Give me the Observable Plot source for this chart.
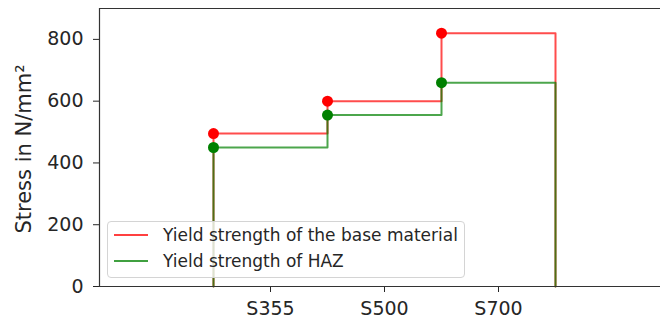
<!DOCTYPE html>
<html><head><meta charset="utf-8">
<script src="https://cdn.jsdelivr.net/npm/d3@7"></script>
<script src="https://cdn.jsdelivr.net/npm/@observablehq/plot@0.6"></script>
<style>
body{margin:0;background:#fff;font-family:"DejaVu Sans",sans-serif;overflow:hidden}
#wrap{position:relative;width:660px;height:320px}
.legend{position:absolute;left:107px;top:221px;width:356px;height:55px;border:1px solid #d4d4d4;border-radius:4px;background:rgba(255,255,255,0.8);font-size:17px;color:#262626}
.item{position:absolute;left:0;height:22px;line-height:22px;white-space:nowrap}
.item .sw{position:absolute;left:6px;top:10px;width:34px;height:2px}
.item .tx{position:absolute;left:55px;top:0}
</style></head>
<body><div id="wrap"></div>
<script>
const grades = ["S355", "S500", "S700"];
const baseYield = [495, 600, 820];
const hazYield = [450, 555, 660];
const yTicks = [0, 200, 400, 600, 800];
const seriesNames = ["Yield strength of the base material", "Yield strength of HAZ"];
const seriesColors = ["red", "green"];

function stepPoints(vals) {
  const pts = [{x: 0, y: 0}];
  vals.forEach((v, i) => pts.push({x: i, y: v}));
  pts.push({x: vals.length, y: vals[vals.length - 1]});
  pts.push({x: vals.length, y: 0});
  return pts;
}
const dots = vals => vals.map((v, i) => ({x: i, y: v}));
const tickPos = grades.map((g, i) => i + 0.5);
const xMin = -1, xMax = -1 + 561 / 114;

const chart = Plot.plot({
  width: 660, height: 320,
  marginLeft: 99, marginRight: 0, marginTop: 8, marginBottom: 34,
  style: {fontFamily: "DejaVu Sans, sans-serif", fontSize: "19px", color: "#262626", background: "#fff"},
  x: {domain: [xMin, xMax]},
  y: {domain: [0, 900]},
  marks: [
    Plot.axisX({ticks: tickPos, tickFormat: (d) => grades[Math.round(d - 0.5)], tickSize: 6, tickPadding: 9, label: null, fontSize: 19}),
    Plot.axisY({ticks: yTicks, tickSize: 6, tickPadding: 10, label: null, fontSize: 19}),
    Plot.line(stepPoints(baseYield), {x: "x", y: "y", curve: "step-after", stroke: seriesColors[0], strokeOpacity: 0.7, strokeWidth: 2}),
    Plot.dot(dots(baseYield), {x: "x", y: "y", r: 5.5, fill: seriesColors[0], stroke: "none"}),
    Plot.line(stepPoints(hazYield), {x: "x", y: "y", curve: "step-after", stroke: seriesColors[1], strokeOpacity: 0.7, strokeWidth: 2}),
    Plot.dot(dots(hazYield), {x: "x", y: "y", r: 5.5, fill: seriesColors[1], stroke: "none"}),
    Plot.ruleX([xMin], {stroke: "#333", strokeWidth: 1.2}),
    Plot.ruleY([0, 900], {stroke: "#333", strokeWidth: 1.2})
  ]
});
const wrap = document.getElementById("wrap");
wrap.appendChild(chart);

// y axis label
const svg = d3.select(chart);
svg.append("text")
  .attr("transform", "translate(25,149) rotate(-90)")
  .attr("text-anchor", "middle").attr("dominant-baseline", "middle")
  .attr("font-size", 21).attr("fill", "#262626")
  .text("Stress in N/mm²");

// legend
const lg = document.createElement("div");
lg.className = "legend";
seriesNames.forEach((n, i) => {
  const it = document.createElement("div");
  it.className = "item";
  it.style.top = (2 + i * 26) + "px";
  const sw = document.createElement("div");
  sw.className = "sw";
  sw.style.background = seriesColors[i];
  sw.style.opacity = 0.75;
  const tx = document.createElement("div");
  tx.className = "tx";
  tx.textContent = n;
  it.appendChild(sw); it.appendChild(tx);
  lg.appendChild(it);
});
wrap.appendChild(lg);
</script></body></html>
